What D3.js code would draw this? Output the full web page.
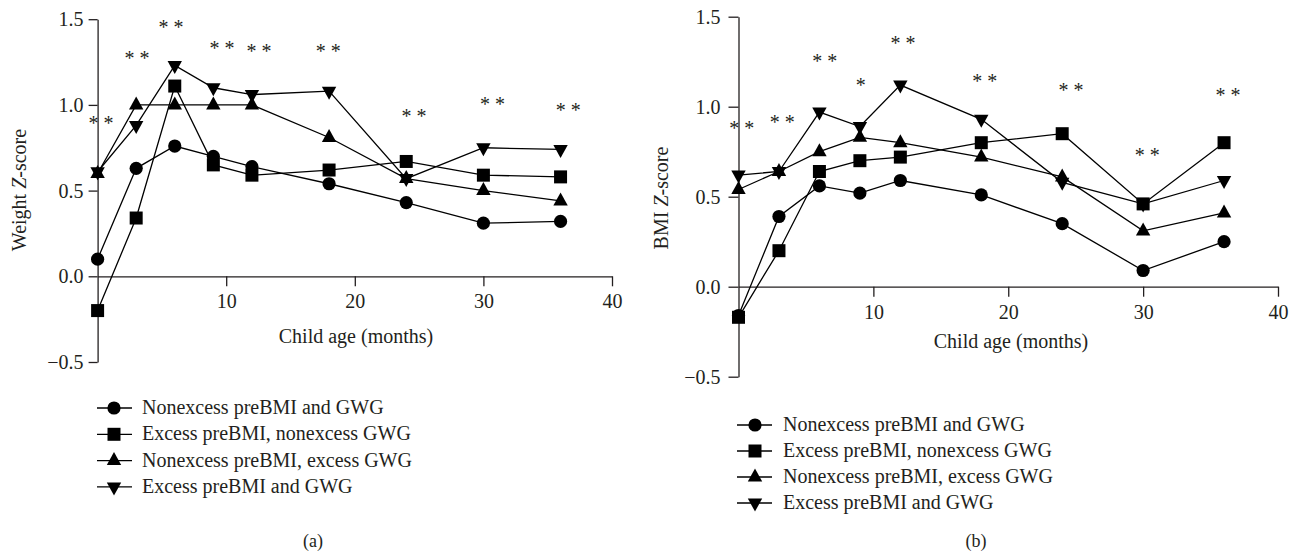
<!DOCTYPE html>
<html>
<head>
<meta charset="utf-8">
<script src="https://cdn.jsdelivr.net/npm/d3@7"></script>
<style>
  html, body { margin: 0; padding: 0; background: #ffffff; }
  svg { display: block; }
  svg text { font-family: "Liberation Serif", "Tinos", "Noto Serif", "DejaVu Serif", "Times New Roman", Times, serif !important; fill: #231f20; }
</style>
</head>
<body>
<svg id="chart" width="1296" height="555"></svg>
<script>
// ---------------- DATA ----------------
const months = [0, 3, 6, 9, 12, 18, 24, 30, 36];
const seriesNames = [
  "Nonexcess preBMI and GWG",
  "Excess preBMI, nonexcess GWG",
  "Nonexcess preBMI, excess GWG",
  "Excess preBMI and GWG"
];
const seriesShapes = ["circle", "square", "triangleUp", "triangleDown"];

// Panel (a): Weight Z-score
const weightNonNon = [0.10, 0.63, 0.76, 0.70, 0.64, 0.54, 0.43, 0.31, 0.32];
const weightExcNon = [-0.20, 0.34, 1.11, 0.65, 0.59, 0.62, 0.67, 0.59, 0.58];
const weightNonExc = [0.60, 1.00, 1.00, 1.00, 1.00, 0.81, 0.57, 0.50, 0.44];
const weightExcExc = [0.61, 0.88, 1.23, 1.10, 1.06, 1.08, 0.57, 0.75, 0.74];

// Panel (b): BMI Z-score
const bmiNonNon = [-0.16, 0.39, 0.56, 0.52, 0.59, 0.51, 0.35, 0.09, 0.25];
const bmiExcNon = [-0.17, 0.20, 0.64, 0.70, 0.72, 0.80, 0.85, 0.46, 0.80];
const bmiNonExc = [0.54, 0.64, 0.75, 0.83, 0.80, 0.72, 0.61, 0.31, 0.41];
const bmiExcExc = [0.62, 0.64, 0.97, 0.89, 1.12, 0.93, 0.58, 0.46, 0.59];

// Significance annotations (month, z-value, label)
const weightSigMonths = [0.26, 3.06, 5.7, 9.68, 12.56, 17.93, 24.6, 30.7, 36.6];
const weightSigValues = [0.91, 1.29, 1.47, 1.35, 1.33, 1.33, 0.95, 1.02, 0.99];
const weightSigLabels = ["**", "**", "**", "**", "**", "**", "**", "**", "**"];
const bmiSigMonths = [0.25, 3.24, 6.4, 9.07, 12.2, 18.26, 24.66, 30.3, 36.3];
const bmiSigValues = [0.90, 0.93, 1.27, 1.14, 1.37, 1.16, 1.11, 0.75, 1.08];
const bmiSigLabels = ["**", "**", "**", "*", "**", "**", "**", "**", "**"];

// Axis ticks
const xTickValues = [10, 20, 30, 40];
const yTickValues = [-0.5, 0.0, 0.5, 1.0, 1.5];
const xDomain = [0, 40];
const yDomain = [-0.5, 1.5];

// ---------------- LAYOUT ----------------
const panels = [
  {
    yLabel: "Weight", caption: "(a)",
    series: [weightNonNon, weightExcNon, weightNonExc, weightExcExc],
    sigMonths: weightSigMonths, sigValues: weightSigValues, sigLabels: weightSigLabels,
    xRange: [97.6, 612], yRange: [362, 19.2],
    yTickSize: 9, yTickPad: 5,
    yLabelPos: [26, 190], xLabelPos: [356, 343], captionPos: [313, 547],
    legend: { x0: 97, x1: 132, mx: 114, tx: 142, y0: 408, dy: 26.3 }
  },
  {
    yLabel: "BMI", caption: "(b)",
    series: [bmiNonNon, bmiExcNon, bmiNonExc, bmiExcExc],
    sigMonths: bmiSigMonths, sigValues: bmiSigValues, sigLabels: bmiSigLabels,
    xRange: [738.5, 1278], yRange: [376.7, 16.7],
    yTickSize: 10, yTickPad: 8,
    yLabelPos: [668, 198], xLabelPos: [1011, 348], captionPos: [976, 547],
    legend: { x0: 737, x1: 772, mx: 755, tx: 783, y0: 425, dy: 26 }
  }
];

const FONT = 20;
const svg = d3.select("#chart");
svg.append("rect").attr("width", 1296).attr("height", 555).attr("fill", "#ffffff");

function markerPath(shape) {
  switch (shape) {
    case "circle": return d3.symbol().type(d3.symbolCircle).size(Math.PI * 6.6 * 6.6)();
    case "square": return "M-6.5,-6.5H6.5V6.5H-6.5Z";
    case "triangleUp": return "M0,-8.5L7.2,4.5L-7.2,4.5Z";
    case "triangleDown": return "M0,8.5L7.2,-4.5L-7.2,-4.5Z";
  }
}

panels.forEach(p => {
  const g = svg.append("g");
  const x = d3.scaleLinear().domain(xDomain).range(p.xRange);
  const y = d3.scaleLinear().domain(yDomain).range(p.yRange);

  const yAxis = d3.axisLeft(y).tickValues(yTickValues).tickFormat(d3.format(".1f"))
    .tickSize(p.yTickSize).tickSizeOuter(0).tickPadding(p.yTickPad);
  const gy = g.append("g").attr("transform", `translate(${x(0)},0)`).call(yAxis);

  const xAxis = d3.axisBottom(x).tickValues(xTickValues).tickFormat(d3.format("d"))
    .tickSize(10).tickSizeOuter(0).tickPadding(8);
  const gx = g.append("g").attr("transform", `translate(0,${y(0)})`).call(xAxis);

  [gy, gx].forEach(ax => {
    ax.attr("font-family", null);
    ax.selectAll("path.domain").attr("stroke", "#231f20").attr("stroke-width", 1.3);
    ax.selectAll(".tick line").attr("stroke", "#231f20").attr("stroke-width", 1.3);
    ax.selectAll(".tick text").attr("font-size", FONT).attr("fill", "#231f20");
  });

  const line = d3.line().x((d, i) => x(months[i])).y(d => y(d));
  p.series.forEach(s => {
    g.append("path").datum(s).attr("d", line)
      .attr("fill", "none").attr("stroke", "#000").attr("stroke-width", 1.3);
  });

  p.series.forEach((s, si) => {
    g.selectAll(null).data(s).enter().append("path")
      .attr("d", markerPath(seriesShapes[si]))
      .attr("transform", (d, i) => `translate(${x(months[i])},${y(d)})`)
      .attr("fill", "#000");
  });

  g.selectAll(null).data(p.sigLabels).enter().append("text")
    .attr("x", (d, i) => x(p.sigMonths[i]))
    .attr("y", (d, i) => y(p.sigValues[i]) + 10)
    .attr("text-anchor", "middle")
    .attr("font-size", 20)
    .text(d => d.split("").join(" "));

  const yl = g.append("text")
    .attr("transform", `translate(${p.yLabelPos[0]},${p.yLabelPos[1]}) rotate(-90)`)
    .attr("text-anchor", "middle").attr("font-size", FONT);
  yl.append("tspan").text(p.yLabel + " ");
  yl.append("tspan").attr("font-style", "italic").text("Z");
  yl.append("tspan").text("-score");

  g.append("text").attr("x", p.xLabelPos[0]).attr("y", p.xLabelPos[1])
    .attr("text-anchor", "middle").attr("font-size", FONT).text("Child age (months)");

  g.append("text").attr("x", p.captionPos[0]).attr("y", p.captionPos[1])
    .attr("text-anchor", "middle").attr("font-size", FONT - 2).text(p.caption);

  const L = p.legend;
  const lg = g.append("g");
  seriesNames.forEach((name, i) => {
    const yy = L.y0 + i * L.dy;
    lg.append("line").attr("x1", L.x0).attr("x2", L.x1).attr("y1", yy).attr("y2", yy)
      .attr("stroke", "#000").attr("stroke-width", 1.3);
    lg.append("path").attr("d", markerPath(seriesShapes[i]))
      .attr("transform", `translate(${L.mx},${yy})`).attr("fill", "#000");
    lg.append("text").attr("x", L.tx).attr("y", yy).attr("dy", "0.3em")
      .attr("font-size", FONT).text(name);
  });
});
</script>
</body>
</html>
